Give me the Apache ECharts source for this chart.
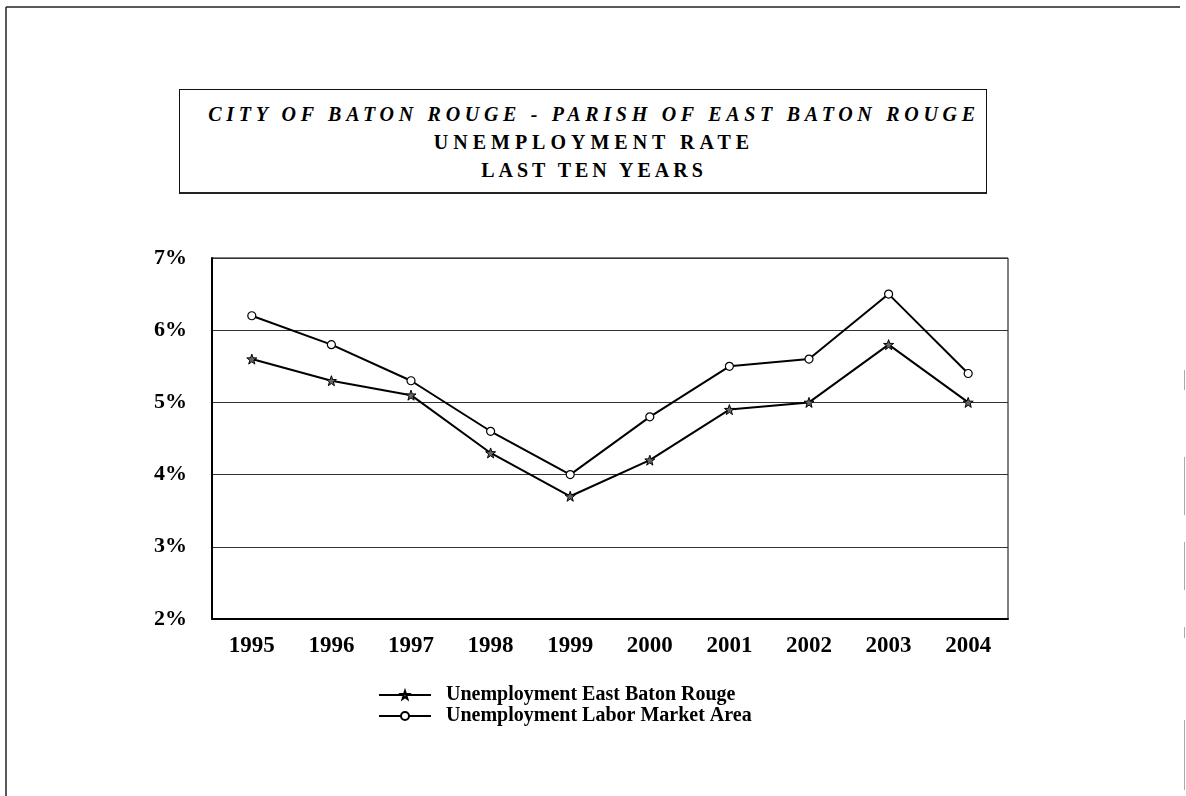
<!DOCTYPE html>
<html>
<head>
<meta charset="utf-8">
<script src="https://cdn.jsdelivr.net/npm/echarts@6/dist/echarts.min.js"></script>
<style>
  html, body { margin: 0; padding: 0; background: #fff; }
  #wrap { position: relative; width: 1186px; height: 796px; }
  #chart { position: absolute; left: 0; top: 0; width: 1186px; height: 796px; }
  #titleBox {
    position: absolute; left: 179px; top: 89px; width: 808px; height: 105px;
    border: 1px solid #111; border-bottom: 2px solid #222; box-sizing: border-box;
    font-family: "Liberation Serif", "Times New Roman", serif; font-weight: bold;
    font-size: 20px; color: #000; text-align: center; line-height: 28px;
    padding-top: 10px; padding-left: 22px; background: #fff; z-index: 2;
  }
  #titleBox .l1 { font-style: italic; letter-spacing: 4.7px; }
  #titleBox .l2 { letter-spacing: 5px; }
  #titleBox .l3 { letter-spacing: 4px; }
</style>
</head>
<body>
<div id="wrap">
  <div id="chart"></div>
  <div id="titleBox">
    <div class="l1">CITY OF BATON ROUGE - PARISH OF EAST BATON ROUGE</div>
    <div class="l2">UNEMPLOYMENT RATE</div>
    <div class="l3">LAST TEN YEARS</div>
  </div>
</div>
<script>
// Years on the horizontal axis
const years = ['1995', '1996', '1997', '1998', '1999', '2000', '2001', '2002', '2003', '2004'];
// Unemployment rates, percent
const eastBatonRouge = [5.6, 5.3, 5.1, 4.3, 3.7, 4.2, 4.9, 5.0, 5.8, 5.0];
const laborMarketArea = [6.2, 5.8, 5.3, 4.6, 4.0, 4.8, 5.5, 5.6, 6.5, 5.4];
// Series names shown in the legend
const seriesNames = ['Unemployment East Baton Rouge', 'Unemployment Labor Market Area'];
// Value axis range, percent
const yMin = 2, yMax = 7, yStep = 1;

const serif = '"Liberation Serif", "Times New Roman", serif';
const starPath = 'path://M0,-10L2.35,-3.24L9.51,-3.09L3.8,1.24L5.88,8.09L0,4L-5.88,8.09L-3.8,1.24L-9.51,-3.09L-2.35,-3.24Z';

const chart = echarts.init(document.getElementById('chart'), null, { renderer: 'canvas' });

// Page frame lines
const frame = [
  { type: 'line', shape: { x1: 6, y1: 7, x2: 1180, y2: 7 }, style: { stroke: '#222', lineWidth: 1.5 } },
  { type: 'line', shape: { x1: 6, y1: 7, x2: 6, y2: 796 }, style: { stroke: '#222', lineWidth: 1.5 } }
];
[[370, 390], [457, 515], [542, 590], [627, 638], [720, 790]].forEach(function (s) {
  frame.push({ type: 'line', shape: { x1: 1184.5, y1: s[0], x2: 1184.5, y2: s[1] }, style: { stroke: '#aaa', lineWidth: 1 } });
});

chart.setOption({
  backgroundColor: '#fff',
  animation: false,
  graphic: frame,
  grid: { left: 212, top: 258, width: 796, height: 361, containLabel: false, show: true, borderColor: '#000', borderWidth: 1 },
  legend: {
    orient: 'vertical', left: 373, top: 680, itemWidth: 52, itemHeight: 10, itemGap: 1,
    textStyle: { fontFamily: serif, fontWeight: 'bold', fontSize: 20, lineHeight: 18, color: '#000', padding: [0, 0, 0, 10] },
    data: seriesNames
  },
  xAxis: {
    type: 'category', data: years, boundaryGap: true,
    axisLine: { lineStyle: { color: '#000', width: 2 } },
    axisTick: { alignWithLabel: true, length: 6, lineStyle: { color: '#000' } },
    axisLabel: { margin: 16, fontFamily: serif, fontWeight: 'bold', fontSize: 23, color: '#000' }
  },
  yAxis: {
    type: 'value', min: yMin, max: yMax, interval: yStep,
    axisLine: { show: true, lineStyle: { color: '#000', width: 2 } },
    axisTick: { show: false },
    splitLine: { lineStyle: { color: '#333', width: 1 } },
    axisLabel: { margin: 25, formatter: '{value}%', fontFamily: serif, fontWeight: 'bold', fontSize: 22, color: '#000', padding: [4, 0, 0, 0] }
  },
  series: [
    {
      name: seriesNames[0], type: 'line', data: eastBatonRouge,
      symbol: starPath, symbolSize: 10,
      lineStyle: { color: '#000', width: 2 },
      itemStyle: { color: '#666', borderColor: '#000', borderWidth: 1 }
    },
    {
      name: seriesNames[1], type: 'line', data: laborMarketArea,
      symbol: 'circle', symbolSize: 8,
      lineStyle: { color: '#000', width: 2 },
      itemStyle: { color: '#fff', borderColor: '#000', borderWidth: 1.2 }
    }
  ]
});
</script>
</body>
</html>
